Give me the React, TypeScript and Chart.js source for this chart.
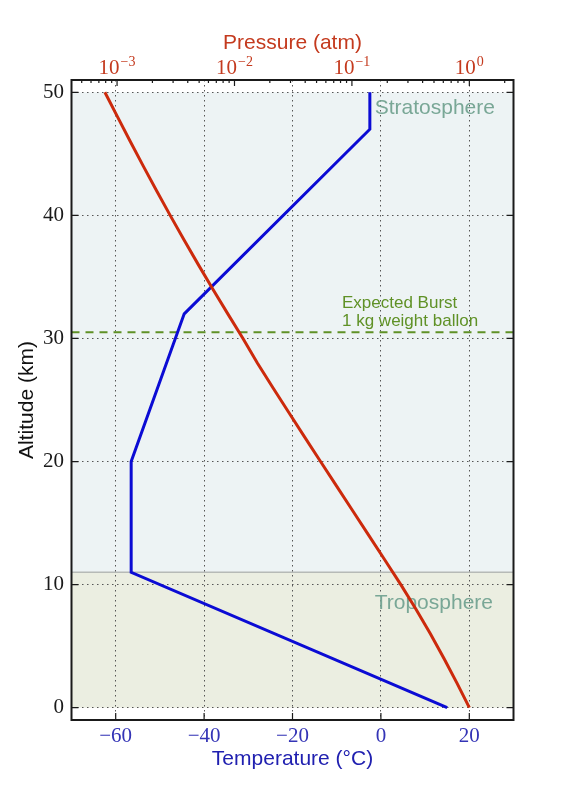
import { useEffect, useRef } from 'react';
import { Chart, registerables } from 'chart.js';
import type { Plugin } from 'chart.js';

Chart.register(...registerables);

// Standard atmosphere temperature profile
const profileAltitudeKm = [0, 11, 20, 32, 47, 50];
const profileTemperatureC = [15, -56.5, -56.5, -44.5, -2.5, -2.5];

// Pressure against altitude
const pressureAltitudeKm = [0, 2, 4, 6, 8, 10, 12, 14, 16, 18, 20, 22, 24, 26, 28, 30, 32, 34, 36, 38, 40, 42, 44, 46, 48, 50];
const pressureAtm = [
  1.0, 0.78455, 0.60834, 0.46564, 0.35135, 0.2609, 0.19077, 0.13918, 0.10153, 0.074069, 0.054033,
  0.039474, 0.028922, 0.02125, 0.015656, 0.011813, 0.0087743, 0.0065473, 0.00492, 0.0037221,
  0.0028339, 0.0021709, 0.0016728, 0.0012962, 0.0010095, 0.00078736,
];

const temperatureTicks = [-60, -40, -20, 0, 20];
const altitudeTicks = [0, 10, 20, 30, 40, 50];
const pressureTicks = [0.001, 0.01, 0.1, 1];
const pressureExponents = ['\u22123', '\u22122', '\u22121', '0'];

const layerNames = ['Troposphere', 'Stratosphere'];
const layerBottomKm = [0, 11];
const layerTopKm = [11, 50];

const burstAltitudeKm = 30.5;
const burstLabel = ['Expected Burst', '1 kg weight ballon'];

const SANS = "'Liberation Sans', Arial, sans-serif";
const SERIF = "'Liberation Serif', 'Times New Roman', serif";
const RED = '#cc2a0c';
const RED_TEXT = '#c43a1e';
const BLUE = '#0b0bd4';
const BLUE_TEXT = '#3434b6';
const BLUE_TITLE = '#2020b0';
const INK = '#1a1a1a';
const GRID = '#555555';
const LAYER_FILL = ['#ebeee1', '#edf3f4'];
const LAYER_TEXT = '#79a796';
const BURST = '#5f9126';

const atmospherePlugin: Plugin<'scatter'> = {
  id: 'atmosphere',
  beforeDraw(chart) {
    const { ctx, chartArea: a, scales } = chart;
    const y = scales.y;
    ctx.save();
    layerNames.forEach((_, i) => {
      const top = y.getPixelForValue(layerTopKm[i]);
      const bottom = y.getPixelForValue(layerBottomKm[i]);
      ctx.fillStyle = LAYER_FILL[i];
      ctx.fillRect(a.left, top, a.right - a.left, bottom - top);
    });
    // tropopause
    const yb = y.getPixelForValue(layerTopKm[0]);
    ctx.strokeStyle = '#b6bab6';
    ctx.lineWidth = 1.5;
    ctx.beginPath();
    ctx.moveTo(a.left, yb);
    ctx.lineTo(a.right, yb);
    ctx.stroke();
    ctx.restore();
  },
  beforeDatasetsDraw(chart) {
    const { ctx, chartArea: a, scales } = chart;
    const x = scales.x;
    const y = scales.y;
    ctx.save();
    // layer names
    ctx.font = `21px ${SANS}`;
    ctx.fillStyle = LAYER_TEXT;
    ctx.textAlign = 'left';
    ctx.textBaseline = 'alphabetic';
    const labelAlt = [8, 48.2];
    layerNames.forEach((name, i) => {
      ctx.fillText(name, x.getPixelForValue(-1.4), y.getPixelForValue(labelAlt[i]));
    });
    // burst altitude
    const yBurst = y.getPixelForValue(burstAltitudeKm);
    ctx.strokeStyle = BURST;
    ctx.lineWidth = 2;
    ctx.setLineDash([8, 6]);
    ctx.beginPath();
    ctx.moveTo(a.left, yBurst);
    ctx.lineTo(a.right, yBurst);
    ctx.stroke();
    ctx.setLineDash([]);
    ctx.font = `17px ${SANS}`;
    ctx.fillStyle = BURST;
    const bx = x.getPixelForValue(-8.8);
    ctx.fillText(burstLabel[0], bx, yBurst - 24);
    ctx.fillText(burstLabel[1], bx, yBurst - 6);
    ctx.restore();
  },
  afterDraw(chart) {
    const { ctx, chartArea: a, scales } = chart;
    const x = scales.x;
    const x2 = scales.x2;
    const y = scales.y;
    ctx.save();
    ctx.strokeStyle = INK;
    ctx.lineWidth = 1.2;
    ctx.beginPath();
    altitudeTicks.forEach(v => {
      const py = y.getPixelForValue(v);
      ctx.moveTo(a.left, py);
      ctx.lineTo(a.left + 7, py);
      ctx.moveTo(a.right, py);
      ctx.lineTo(a.right - 7, py);
    });
    temperatureTicks.forEach(v => {
      const px = x.getPixelForValue(v);
      ctx.moveTo(px, a.bottom);
      ctx.lineTo(px, a.bottom - 7);
    });
    pressureTicks.forEach(v => {
      const px = x2.getPixelForValue(v);
      ctx.moveTo(px, a.top);
      ctx.lineTo(px, a.top + 6);
    });
    for (let d = -4; d <= 0; d++) {
      for (let m = 2; m <= 9; m++) {
        const v = m * Math.pow(10, d);
        if (v < (x2.min as number) || v > (x2.max as number)) continue;
        const px = x2.getPixelForValue(v);
        ctx.moveTo(px, a.top);
        ctx.lineTo(px, a.top + 3);
      }
    }
    ctx.stroke();

    // frame
    ctx.lineWidth = 2;
    ctx.strokeRect(a.left, a.top, a.right - a.left, a.bottom - a.top);

    // top tick labels 10^n
    ctx.fillStyle = RED_TEXT;
    ctx.textBaseline = 'alphabetic';
    ctx.textAlign = 'left';
    pressureTicks.forEach((v, i) => {
      const px = x2.getPixelForValue(v);
      ctx.font = `21px ${SERIF}`;
      const w1 = ctx.measureText('10').width;
      ctx.font = `14px ${SERIF}`;
      const w2 = ctx.measureText(pressureExponents[i]).width;
      const start = px - (w1 + 1 + w2) / 2;
      ctx.font = `21px ${SERIF}`;
      ctx.fillText('10', start, a.top - 6);
      ctx.font = `14px ${SERIF}`;
      ctx.fillText(pressureExponents[i], start + w1 + 1, a.top - 14);
    });
    ctx.restore();
  },
};

export default function App() {
  const canvasRef = useRef<HTMLCanvasElement>(null);
  const chartRef = useRef<Chart | null>(null);

  useEffect(() => {
    if (!canvasRef.current) return;
    if (chartRef.current) chartRef.current.destroy();

    chartRef.current = new Chart(canvasRef.current, {
      type: 'scatter',
      data: {
        datasets: [
          {
            label: 'Pressure',
            data: pressureAltitudeKm.map((alt, i) => ({ x: pressureAtm[i], y: alt })),
            xAxisID: 'x2',
            yAxisID: 'y',
            showLine: true,
            borderColor: RED,
            borderWidth: 3,
            pointRadius: 0,
            tension: 0,
          },
          {
            label: 'Temperature',
            data: profileAltitudeKm.map((alt, i) => ({ x: profileTemperatureC[i], y: alt })),
            xAxisID: 'x',
            yAxisID: 'y',
            showLine: true,
            borderColor: BLUE,
            borderWidth: 3,
            pointRadius: 0,
            tension: 0,
          },
        ],
      },
      options: {
        responsive: false,
        animation: false,
        layout: { padding: { left: 0, right: 57.5, top: 0, bottom: 0 } },
        plugins: {
          legend: { display: false },
          tooltip: { enabled: false },
        },
        scales: {
          x: {
            type: 'linear',
            position: 'bottom',
            min: -70,
            max: 30,
            afterBuildTicks: s => {
              s.ticks = temperatureTicks.map(value => ({ value }));
            },
            afterFit: s => {
              s.height = 80;
            },
            grid: { color: GRID, lineWidth: 1, drawTicks: false },
            border: { display: false, dash: [1.5, 3.5] },
            ticks: {
              color: BLUE_TEXT,
              font: { family: SERIF, size: 21 },
              padding: 4,
              maxRotation: 0,
              callback: v => (Number(v) < 0 ? '\u2212' + Math.abs(Number(v)) : String(v)),
            },
            title: {
              display: true,
              text: 'Temperature (°C)',
              color: BLUE_TITLE,
              font: { family: SANS, size: 21 },
              padding: { top: 0, bottom: 28 },
            },
          },
          x2: {
            type: 'logarithmic',
            position: 'top',
            min: Math.pow(10, -3.388),
            max: Math.pow(10, 0.376),
            afterFit: s => {
              s.height = 80;
            },
            grid: { display: false },
            border: { display: false },
            ticks: { display: false },
            title: {
              display: true,
              text: 'Pressure (atm)',
              color: RED_TEXT,
              font: { family: SANS, size: 21 },
              padding: { top: 31, bottom: 0 },
            },
          },
          y: {
            type: 'linear',
            position: 'left',
            min: -1,
            max: 51,
            afterBuildTicks: s => {
              s.ticks = altitudeTicks.map(value => ({ value }));
            },
            afterFit: s => {
              s.width = 71.5;
            },
            grid: { color: GRID, lineWidth: 1, drawTicks: false },
            border: { display: false, dash: [1.5, 3.5] },
            ticks: {
              color: INK,
              font: { family: SERIF, size: 21 },
              padding: 7.5,
            },
            title: {
              display: true,
              text: 'Altitude (km)',
              color: '#111111',
              font: { family: SANS, size: 21 },
              padding: { top: 15, bottom: 0 },
            },
          },
        },
      },
      plugins: [atmospherePlugin],
    });

    return () => {
      if (chartRef.current) {
        chartRef.current.destroy();
        chartRef.current = null;
      }
    };
  }, []);

  return (
    <div style={{ position: 'absolute', left: 0, top: 0, width: 571, height: 800, background: '#ffffff' }}>
      <canvas ref={canvasRef} width={571} height={800} style={{ display: 'block' }} />
    </div>
  );
}
